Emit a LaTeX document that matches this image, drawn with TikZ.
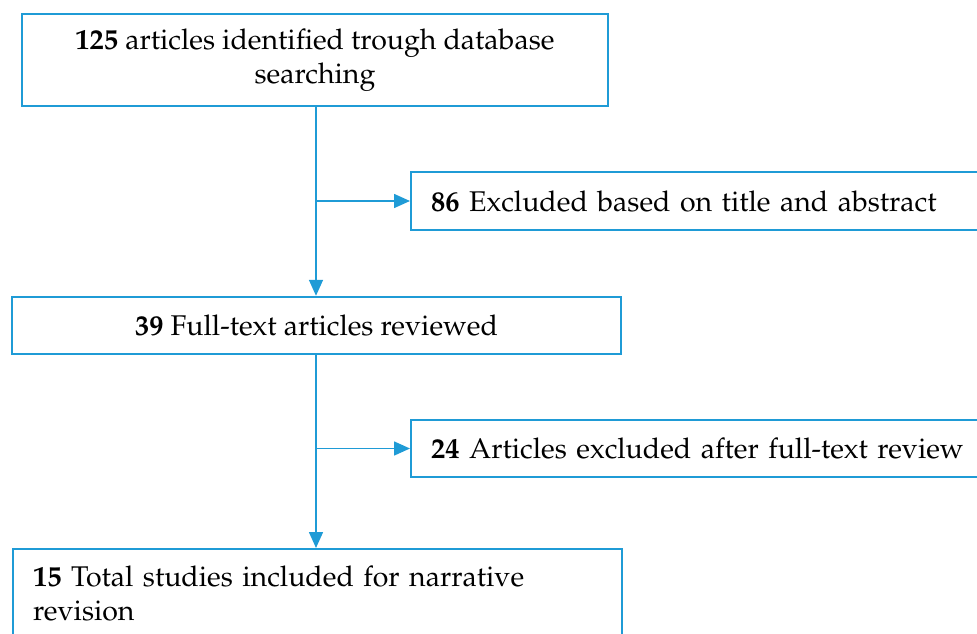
\documentclass[tikz,border=0pt]{standalone}
\usepackage[T1]{fontenc}
\usepackage{mathpazo}
\usetikzlibrary{arrows.meta}
\definecolor{boxblue}{RGB}{31,155,214}
\tikzset{
  box/.style={draw=boxblue, line width=2.4pt, inner xsep=20pt, inner ysep=0pt,
    font=\fontsize{28.5}{34}\selectfont},
  arr/.style={draw=boxblue, line width=1.6pt, -{Triangle[width=14pt,length=16pt]}}
}
\begin{document}
\begin{tikzpicture}[x=1pt,y=-1pt]
  \useasboundingbox (0,0) rectangle (977,634);
  \node[box, minimum width=586pt, minimum height=92pt, align=center] (ident) at (315,60)
    {\textbf{125} articles identified trough database\\searching};
  \node[box, anchor=west, text width=560pt, minimum height=58pt, align=left] (excl1) at (410,201)
    {\textbf{86} Excluded based on title and abstract};
  \node[box, minimum width=609pt, minimum height=57pt, align=center] (full) at (316.5,325.5)
    {\textbf{39} Full-text articles reviewed};
  \node[box, anchor=west, text width=560pt, minimum height=57pt, align=left] (excl2) at (410,448.5)
    {\textbf{24} Articles excluded after full-text review};
  \node[box, anchor=north west, text width=569pt, minimum height=88pt, align=left] (incl) at (12,548)
    {\textbf{15} Total studies included for narrative\\revision};
  % connectors
  \coordinate (j1) at (316,201);
  \coordinate (j2) at (316,448.5);
  \draw[arr] (ident.south -| j1) -- (full.north -| j1);
  \draw[arr] (j1) -- (excl1.west);
  \draw[arr] (full.south -| j2) -- (incl.north -| j2);
  \draw[arr] (j2) -- (excl2.west);
\end{tikzpicture}
\end{document}
